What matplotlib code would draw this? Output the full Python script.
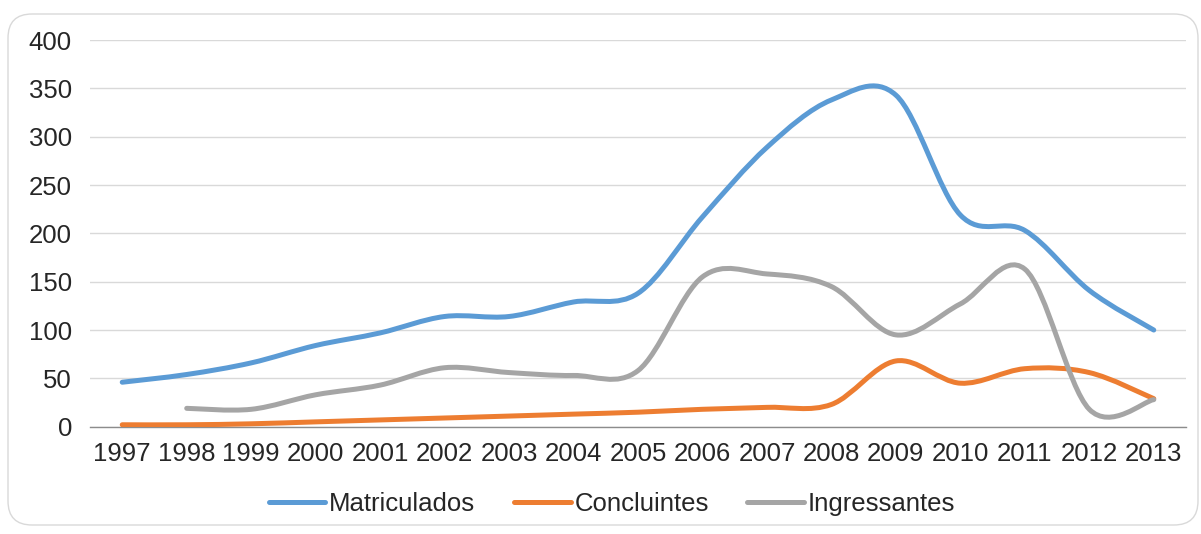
import numpy as np
import matplotlib
matplotlib.use("Agg")
import matplotlib.pyplot as plt
from matplotlib.path import Path
from matplotlib.patches import PathPatch, FancyBboxPatch
from matplotlib.lines import Line2D

years = ["1997", "1998", "1999", "2000", "2001", "2002", "2003", "2004", "2005",
         "2006", "2007", "2008", "2009", "2010", "2011", "2012", "2013"]
matriculados = [46, 54, 66, 84, 97, 114, 114, 129, 138, 217, 289, 338, 343, 219, 203, 141, 100]
concluintes = [2, 2, 3, 5, 7, 9, 11, 13, 15, 18, 20, 23, 68, 45, 60, 56, 29]
ingressantes = [None, 19, 18, 33, 43, 61, 56, 53, 58, 155, 158, 145, 95, 127, 163, 18, 28]
series_names = ["Matriculados", "Concluintes", "Ingressantes"]
colors = ["#5B9BD5", "#ED7D31", "#A5A5A5"]

plt.rcParams["font.family"] = ["Liberation Sans", "DejaVu Sans"]

fig = plt.figure(figsize=(12.01, 5.34), dpi=100)
fig.patch.set_facecolor("white")

# rounded chart-area frame
frame = FancyBboxPatch((8 / 1201, 9 / 534), 1190 / 1201, 511 / 534,
                       boxstyle="round,pad=0,rounding_size=0.02",
                       transform=fig.transFigure, facecolor="none",
                       edgecolor="#D9D9D9", linewidth=1.0, zorder=-1,
                       mutation_aspect=1201 / 534)
fig.patches.append(frame)

ax = fig.add_axes([90 / 1201, 107.3 / 534, 1096 / 1201, 386.7 / 534])
ax.set_facecolor("none")


def smooth_path(values):
    """Bezier path through the points, Catmull-Rom style tangents."""
    pts = [(i, v) for i, v in enumerate(values) if v is not None]
    xs = np.array([p[0] for p in pts], dtype=float)
    ys = np.array([p[1] for p in pts], dtype=float)
    n = len(xs)
    verts = [(xs[0], ys[0])]
    codes = [Path.MOVETO]
    for i in range(n - 1):
        i0 = max(i - 1, 0)
        i3 = min(i + 2, n - 1)
        c1 = (xs[i] + (xs[i + 1] - xs[i0]) / 6, ys[i] + (ys[i + 1] - ys[i0]) / 6)
        c2 = (xs[i + 1] - (xs[i3] - xs[i]) / 6, ys[i + 1] - (ys[i3] - ys[i]) / 6)
        verts += [c1, c2, (xs[i + 1], ys[i + 1])]
        codes += [Path.CURVE4] * 3
    return Path(verts, codes)


for vals, col in zip([matriculados, concluintes, ingressantes], colors):
    patch = PathPatch(smooth_path(vals), facecolor="none", edgecolor=col,
                      linewidth=3.6, capstyle="round", joinstyle="round", zorder=3)
    ax.add_patch(patch)

ax.set_xlim(-0.5, len(years) - 0.5)
ax.set_ylim(0, 400)
ax.set_yticks(range(0, 401, 50))
ax.set_xticks(range(len(years)))
ax.set_xticklabels(years)
ax.grid(axis="y", color="#D9D9D9", linewidth=1.0)
ax.set_axisbelow(True)
for s in ["top", "right", "left"]:
    ax.spines[s].set_visible(False)
ax.spines["bottom"].set_color("#8C8C8C")
ax.spines["bottom"].set_linewidth(1.0)
ax.tick_params(axis="both", length=0, labelsize=18.5, colors="#262626")
ax.tick_params(axis="y", pad=13)
ax.tick_params(axis="x", pad=11)

handles = [Line2D([], [], color=c, linewidth=3.6, solid_capstyle="round") for c in colors]
fig.legend(handles, series_names, loc="center", bbox_to_anchor=(612 / 1201, 1 - 504 / 534),
           ncol=3, frameon=False, fontsize=18.5, handlelength=2.2, handletextpad=0.15,
           columnspacing=1.5, labelcolor="#262626")

fig.savefig("out.png", dpi=100)
